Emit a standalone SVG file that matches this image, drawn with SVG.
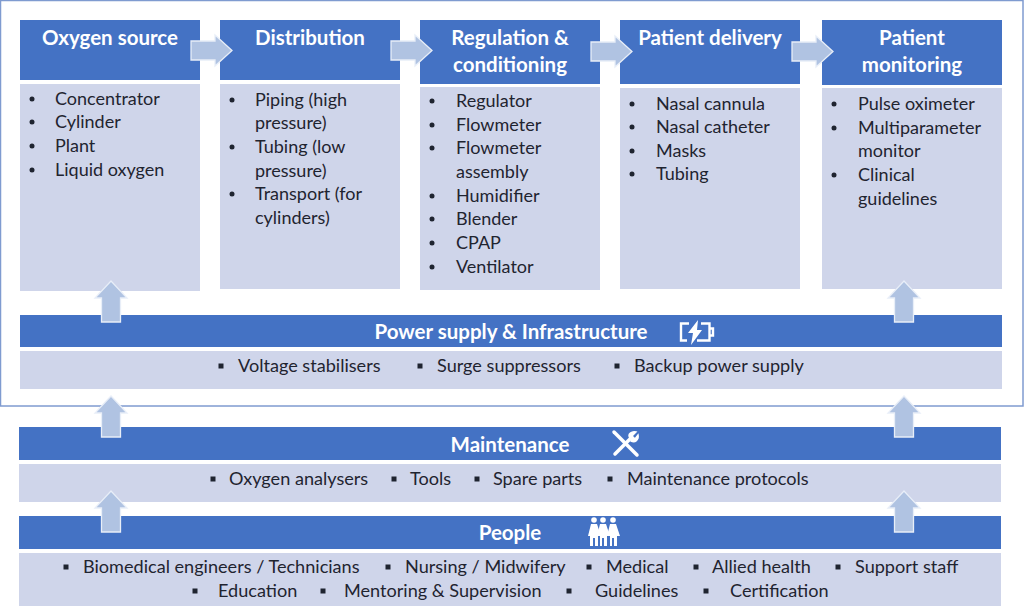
<svg xmlns="http://www.w3.org/2000/svg" width="1024" height="606" viewBox="0 0 1024 606">
<style>
text{font-family:"Lato","Carlito","Liberation Sans",sans-serif}
.h{fill:#4472c4}
.b{fill:#cfd5ea}
.t{fill:#fff;font-size:20.500px;font-weight:700;text-anchor:middle}
.l{fill:#1f2430;font-size:18px}
.s{fill:#1f2430;font-size:18.100px}
.a{fill:#b0c3e2;stroke:#e8eef8;stroke-width:1.300}
.i{fill:none;stroke:#fff;stroke-width:2.400}
</style>
<defs>
<path id="ar" class="a" d="M0-9.500H24V-15.500L41 0 24 15.500V9.500H0Z"/>
<path id="au" class="a" d="M-9.500 41V17H-16L0 0 16 17H9.500V41Z"/>
<circle id="d" r="2.500" fill="#1f2430"/>
<rect id="q" x="-2.500" y="-2.500" width="5" height="5" fill="#1f2430"/>
</defs>
<rect x="0.500" y="0.500" width="1022.500" height="405.500" fill="#fff" stroke="#7f9bd0" stroke-width="1.500"/>
<g id="oxygen-source">
<rect class="h" x="20" y="20" width="180" height="60"/><rect class="b" x="20" y="84" width="180" height="207"/>
<text class="t" x="110" y="45">Oxygen source</text>
<use href="#d" x="32" y="99"/><use href="#d" x="32" y="122"/><use href="#d" x="32" y="146"/><use href="#d" x="32" y="170"/>
<text class="l" x="55" y="105">Concentrator</text><text class="l" x="55" y="128">Cylinder</text><text class="l" x="55" y="152">Plant</text><text class="l" x="55" y="176">Liquid oxygen</text>
</g>
<g id="distribution">
<rect class="h" x="220" y="20" width="180" height="60"/><rect class="b" x="220" y="84" width="180" height="205"/>
<text class="t" x="310" y="45">Distribution</text>
<use href="#d" x="232" y="100"/><use href="#d" x="232" y="147"/><use href="#d" x="232" y="194"/>
<text class="l" x="255" y="106">Piping (high</text><text class="l" x="255" y="129">pressure)</text><text class="l" x="255" y="153">Tubing (low</text><text class="l" x="255" y="177">pressure)</text><text class="l" x="255" y="200">Transport (for</text><text class="l" x="255" y="224">cylinders)</text>
</g>
<g id="regulation">
<rect class="h" x="420" y="20" width="180" height="64"/><rect class="b" x="420" y="87" width="180" height="203"/>
<text class="t" x="510" y="45">Regulation &amp;</text><text class="t" x="510" y="72">conditioning</text>
<use href="#d" x="432" y="101"/><use href="#d" x="432" y="125"/><use href="#d" x="432" y="148"/><use href="#d" x="432" y="196"/><use href="#d" x="432" y="219"/><use href="#d" x="432" y="243"/><use href="#d" x="432" y="267"/>
<text class="l" x="456" y="107">Regulator</text><text class="l" x="456" y="131">Flowmeter</text><text class="l" x="456" y="154">Flowmeter</text><text class="l" x="456" y="178">assembly</text><text class="l" x="456" y="202">Humidifier</text><text class="l" x="456" y="225">Blender</text><text class="l" x="456" y="249">CPAP</text><text class="l" x="456" y="273">Ventilator</text>
</g>
<g id="patient-delivery">
<rect class="h" x="620" y="20" width="180" height="64"/><rect class="b" x="620" y="88" width="180" height="201"/>
<text class="t" x="710" y="45">Patient delivery</text>
<use href="#d" x="632" y="104"/><use href="#d" x="632" y="127"/><use href="#d" x="632" y="151"/><use href="#d" x="632" y="174"/>
<text class="l" x="656" y="110">Nasal cannula</text><text class="l" x="656" y="133">Nasal catheter</text><text class="l" x="656" y="157">Masks</text><text class="l" x="656" y="180">Tubing</text>
</g>
<g id="patient-monitoring">
<rect class="h" x="822" y="20" width="180" height="65"/><rect class="b" x="822" y="88" width="180" height="201"/>
<text class="t" x="912" y="45">Patient</text><text class="t" x="912" y="72">monitoring</text>
<use href="#d" x="834" y="104"/><use href="#d" x="834" y="128"/><use href="#d" x="834" y="175"/>
<text class="l" x="858" y="110">Pulse oximeter</text><text class="l" x="858" y="134">Multiparameter</text><text class="l" x="858" y="157">monitor</text><text class="l" x="858" y="181">Clinical</text><text class="l" x="858" y="205">guidelines</text>
</g>
<g id="power-supply">
<rect class="h" x="20" y="315" width="982" height="32"/><rect class="b" x="20" y="351" width="982" height="38"/>
<text class="t" x="511" y="339">Power supply &amp; Infrastructure</text>
<g class="i"><path d="M689 323.500H681V340.500H687M701 323.500H709.500V340.500H697"/><path d="M710 328.500H713V335.500H710"/></g>
<path d="M698 320L688 333H693L691 345 702 330H697Z" fill="#fff"/>
<use href="#q" x="221" y="366"/><use href="#q" x="420" y="366"/><use href="#q" x="617" y="366"/>
<text class="s" x="238" y="372">Voltage stabilisers</text><text class="s" x="437" y="372">Surge suppressors</text><text class="s" x="634" y="372">Backup power supply</text>
</g>
<g id="maintenance">
<rect class="h" x="19" y="427" width="982" height="33"/><rect class="b" x="19" y="464" width="982" height="38"/>
<text class="t" x="510" y="452">Maintenance</text>
<g fill="none" stroke="#fff" stroke-linecap="round"><path d="M614 432L637 455" stroke-width="3.500"/><path d="M615 454L631 438" stroke-width="3.500"/><path d="M630 438C627 434 632 431 636 432L632 436 635 439 638 435C639 440 635 443 631 441" stroke-width="1.500" fill="#fff"/></g>
<use href="#q" x="213" y="479"/><use href="#q" x="394" y="479"/><use href="#q" x="477" y="479"/><use href="#q" x="610" y="479"/>
<text class="s" x="229" y="485">Oxygen analysers</text><text class="s" x="410" y="485">Tools</text><text class="s" x="493" y="485">Spare parts</text><text class="s" x="627" y="485">Maintenance protocols</text>
</g>
<g id="people">
<rect class="h" x="19" y="516" width="982" height="33"/><rect class="b" x="19" y="553" width="982" height="53"/>
<text class="t" x="510" y="540">People</text>
<g fill="#fff"><circle cx="594" cy="520" r="2.800"/><circle cx="603" cy="520" r="2.800"/><circle cx="613" cy="520" r="2.800"/>
<path d="M591 524H597L601 536H598V546H595V538H593V546H590V536H588Z"/><path d="M600 524H606L610 536H607V546H604V538H602V546H600V536H597Z"/><path d="M610 524H616L620 536H617V546H614V538H612V546H610V536H607Z"/></g>
<use href="#q" x="66" y="567"/><use href="#q" x="388" y="567"/><use href="#q" x="589" y="567"/><use href="#q" x="696" y="567"/><use href="#q" x="838" y="567"/>
<use href="#q" x="195" y="591"/><use href="#q" x="323" y="591"/><use href="#q" x="569" y="591"/><use href="#q" x="706" y="591"/>
<text class="s" x="83" y="573">Biomedical engineers / Technicians</text><text class="s" x="405" y="573">Nursing / Midwifery</text><text class="s" x="606" y="573">Medical</text><text class="s" x="712" y="573">Allied health</text><text class="s" x="855" y="573">Support staff</text>
<text class="s" x="218" y="597">Education</text><text class="s" x="344" y="597">Mentoring &amp; Supervision</text><text class="s" x="595" y="597">Guidelines</text><text class="s" x="730" y="597">Certification</text>
</g>
<g id="connectors">
<use href="#ar" x="191" y="50.500"/><use href="#ar" x="391" y="50.500"/><use href="#ar" x="591" y="51.500"/><use href="#ar" x="792" y="51.500"/>
<use href="#au" x="111" y="281"/><use href="#au" x="904" y="281"/>
<use href="#au" x="111" y="396"/><use href="#au" x="904" y="396"/>
<use href="#au" x="111" y="491"/><use href="#au" x="904" y="491"/>
</g>
</svg>
